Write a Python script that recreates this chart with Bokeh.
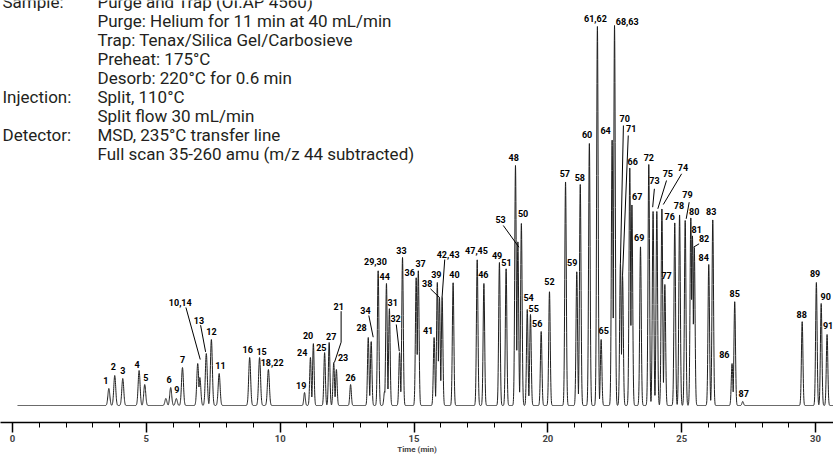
import numpy as np
from bokeh.plotting import figure
from bokeh.models import FixedTicker, Range1d
from bokeh.embed import file_html
from bokeh.resources import INLINE
from bokeh.core.properties import value

# ---------------- data ----------------
peak_names = ["1", "2", "3", "4", "5", "", "6", "9", "7", "10,14", "", "13", "12", "11",
              "16", "15", "18,22", "19", "24", "20", "25", "27", "21", "23", "26", "28",
              "34", "29,30", "", "44", "31", "32", "33", "36", "37", "41", "39", "38",
              "42,43", "40", "47,45", "46", "49", "51", "48", "53", "50", "54", "55", "56",
              "52", "57", "59", "58", "60", "61,62", "65", "64", "68,63", "70", "71", "66",
              "67", "69", "72", "73", "75", "74", "77", "76", "78", "79", "80", "81", "82",
              "84", "83", "86", "85", "87", "88", "89", "90", "91"]
peak_times = [3.60, 3.82, 4.12, 4.73, 4.94, 5.73, 5.91, 6.12, 6.35, 6.92, 7.00, 7.24, 7.43, 7.72,
              8.86, 9.23, 9.56, 10.91, 11.13, 11.24, 11.66, 11.83, 12.00, 12.10, 12.63, 13.29,
              13.40, 13.66, 13.90, 13.97, 14.08, 14.46, 14.57, 15.08, 15.16, 15.75, 15.87, 15.95,
              16.05, 16.46, 17.36, 17.61, 18.19, 18.44, 18.79, 18.88, 19.01, 19.23, 19.35, 19.75,
              20.06, 20.66, 21.08, 21.21, 21.55, 21.85, 21.99, 22.40, 22.49, 22.71, 22.79, 23.06,
              23.14, 23.46, 23.77, 23.93, 24.07, 24.26, 24.37, 24.74, 24.92, 25.13, 25.34, 25.40, 25.47,
              26.01, 26.16, 26.88, 26.98, 27.28, 29.50, 30.03, 30.21, 30.43]
peak_heights = [17, 30, 27, 35, 21, 7, 18, 7, 38, 42, 28, 52, 66, 32,
                48, 48, 36, 13, 48, 62, 53, 63, 43, 36, 21, 68,
                64, 135, 14, 122, 97, 53, 148, 128, 135, 68, 123, 108,
                109, 123, 146, 122, 143, 137, 240, 164, 182, 96, 91, 74,
                114, 224, 134, 221, 262, 379, 66, 266, 380, 142, 130, 238,
                201, 159, 241, 194, 194, 197, 121, 183, 191, 185, 188, 170, 158,
                141, 186, 42, 104, 4, 84, 123, 102, 71]

tick_values = [0, 5, 10, 15, 20, 25, 30]
minor_tick_values = list(range(0, 31))

info_keys = ["Sample:", "", "", "", "", "Injection:", "", "Detector:", ""]
info_values = ["Purge and Trap (OI.AP 4560)",
               "Purge: Helium for 11 min at 40 mL/min",
               "Trap: Tenax/Silica Gel/Carbosieve",
               "Preheat: 175\u00b0C",
               "Desorb: 220\u00b0C for 0.6 min",
               "Split, 110\u00b0C",
               "Split flow 30 mL/min",
               "MSD, 235\u00b0C transfer line",
               "Full scan 35-260 amu (m/z 44 subtracted)"]

# ---------------- layout (label offsets in px relative to peak apex) ----------------
PX_PER_MIN = 26.77
label_offsets = {
    "1": (-3, -8.5), "2": (-1.5, -9), "3": (0, -8), "4": (-2, -6.5), "5": (1, -7),
    "6": (-1.5, -8.5), "9": (0.5, -9), "7": (0, -8.5), "10,14": (-17.5, -60.7),
    "13": (-7.4, -33.3), "12": (0, -7.6), "11": (1.3, -7.6), "16": (-2, -8.4),
    "15": (2, -6.5), "18,22": (3.7, -6.7), "19": (-3.3, -7), "24": (-8.3, -5.3),
    "20": (-5.3, -7.7), "25": (-3.3, -5.3), "27": (2, -6.3), "21": (5, -56.3),
    "23": (6.7, -11.7), "26": (0, -7.3), "28": (-6.7, -10.3), "34": (-5.7, -31),
    "29,30": (-2.7, -9.3), "44": (-1.7, -7.3), "31": (3.3, -6.3), "32": (-4, -33.7),
    "33": (-1, -7), "36": (-6.4, -5.3), "37": (2.3, -6.7), "41": (-6, -7),
    "39": (-1, -7.7), "38": (-12.3, -13.7), "42,43": (6, -41.7), "40": (1.3, -7.7),
    "47,45": (-0.7, -9), "46": (-0.6, -9), "49": (-2.3, -7), "51": (0.3, -6.3),
    "48": (-1.7, -7.7), "53": (-17.3, -21.7), "50": (1.7, -9.7), "54": (1.3, -11.7),
    "55": (3.3, -5.7), "56": (-4, -8.3), "52": (0, -10), "57": (-0.7, -7.7),
    "59": (-4.6, -9.3), "58": (-0.4, -7.3), "60": (-2.3, -9), "61,62": (-2, -7.7),
    "65": (2.6, -9), "64": (-6.5, -9), "68,63": (12.7, -4.3), "70": (4.3, -144.7),
    "71": (8.7, -146.7), "66": (3, -6), "67": (5.2, -8), "69": (-1.3, -9.3),
    "72": (0, -7.3), "73": (1.3, -31), "75": (11, -38.3), "74": (21, -41.3),
    "77": (1.7, -9), "76": (-5, -6), "78": (-0.7, -9), "79": (2.3, -25.7),
    "80": (3.4, -6), "81": (4.2, -6.3), "82": (9.8, -9.3), "84": (-5, -7.3),
    "83": (-1.5, -8), "86": (-7.7, -8.7), "85": (0, -8.3), "87": (1, -7.7),
    "88": (-0.4, -7), "89": (-1.3, -8.7), "90": (4.6, -7), "91": (1, -9),
}
leaders = {
    "10,14": [(-11.8, -56), (2.5, -4)],
    "13": [(-5.7, -28.3), (-0.7, -1.6)],
    "21": [(7.4, -51.3), (7.4, -20.3), (0.7, 0)],
    "34": [(-2.4, -26), (2, -4.3)],
    "32": [(-3.3, -28), (-0.3, -1.3)],
    "38": [(-9, -8.7), (0, 0)],
    "42,43": [(2.6, -37), (0, 0)],
    "53": [(-14.6, -16), (1, 5.7)],
    "70": [(3, -138), (0, 0)],
    "71": [(5.7, -140), (0, 0)],
    "73": [(1.3, -22.7), (-0.4, -4.3)],
    "75": [(9.7, -31), (1, -2.7)],
    "74": [(19.7, -34.7), (1.4, -4)],
    "79": [(4, -18.3), (1, -1.7)],
    "82": [(4.8, -3.7), (-0.8, -0.3)],
}

# ---------------- trace ----------------
t = np.arange(0.19, 30.67, 0.004)
sig = np.where(np.array(peak_times) < 10, 0.036, 0.028)
trace = np.zeros_like(t)
for tm, h, s in zip(peak_times, peak_heights, sig):
    trace = np.maximum(trace, h * np.exp(-0.5 * ((t - tm) / s) ** 2))

p = figure(width=833, height=456, output_backend="svg", toolbar_location=None,
           x_range=Range1d(-0.448, 30.67), y_range=Range1d(-17, 405),
           y_axis_location=None, x_axis_location="below",
           min_border_left=0, min_border_right=0, min_border_top=0, min_border_bottom=0)
p.outline_line_color = None
p.grid.visible = False
p.background_fill_color = "white"
p.border_fill_color = "white"

p.line(t, trace, line_color="#1e1e1e", line_width=1)

# peak labels + leaders
lx, ly, lt = [], [], []
lxs, lys = [], []
for name, tm, h in zip(peak_names, peak_times, peak_heights):
    if not name:
        continue
    dx, dy = label_offsets.get(name, (0, -8))
    lx.append(tm + dx / PX_PER_MIN)
    ly.append(h - dy)
    lt.append(name)
    if name in leaders:
        pts = leaders[name]
        lxs.append([tm + a / PX_PER_MIN for a, b in pts])
        lys.append([h - b for a, b in pts])

p.multi_line(lxs, lys, line_color="black", line_width=1)
p.text(lx, ly, text=lt, text_font=value("Roboto"), text_font_style="bold",
       text_font_size="9px", text_align="center", text_baseline="middle", text_color="black")

# method info block
top_h, line_step = 404, 19.1
ys = [top_h - i * line_step for i in range(len(info_values))]
p.text([-0.374] * len(info_keys), ys, text=info_keys, text_font=value("Roboto"),
       text_font_size="17px", text_align="left", text_baseline="middle", text_color="#231f20")
p.text([3.175] * len(info_values), ys, text=info_values, text_font=value("Roboto"),
       text_font_size="17px", text_align="left", text_baseline="middle", text_color="#231f20")

# axis
ax = p.xaxis[0]
ax.ticker = FixedTicker(ticks=tick_values, minor_ticks=minor_tick_values)
ax.axis_label = "Time (min)"
ax.axis_label_text_font = "Roboto"
ax.axis_label_text_font_style = "bold"
ax.axis_label_text_font_size = "8px"
ax.axis_label_standoff = 0
ax.major_label_text_font = "Roboto"
ax.major_label_text_font_style = "bold"
ax.major_label_text_font_size = "9.5px"
ax.major_label_standoff = 2
ax.axis_line_color = "black"
ax.axis_line_width = 1.5
ax.major_tick_line_color = "black"
ax.major_tick_line_width = 1.5
ax.major_tick_in = 0
ax.major_tick_out = 10
ax.minor_tick_line_color = "black"
ax.minor_tick_line_width = 1
ax.minor_tick_in = 0
ax.minor_tick_out = 5

open("out.html", "w").write(file_html(p, INLINE))
